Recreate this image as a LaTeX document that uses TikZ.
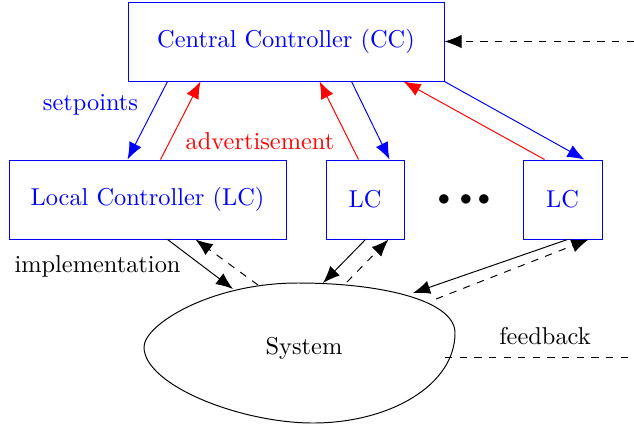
\documentclass[tikz,border=0pt]{standalone}
\usetikzlibrary{arrows.meta,calc}
\begin{document}
\begin{tikzpicture}[x=0.41pt,y=-0.41pt,
  box/.style={draw=blue,text=blue,rectangle,inner sep=0pt,minimum height=32.39pt},
  tip/.style={-{Latex[length=7pt,width=5.5pt]}},
  sp/.style={tip,blue},
  adv/.style={tip,red},
  dsh/.style={dashed},
  dot/.style={inner sep=0pt}]
\useasboundingbox (0,0) rectangle (634,426);
\node[box,minimum width=129.56pt] (cc) at (286,41.5) {Central Controller (CC)};
\node[box,minimum width=113.57pt] (lc1) at (147.5,199.5) {Local Controller (LC)};
\node[box,minimum width=31.98pt] (lc2) at (365,199.5) {LC};
\node[box,minimum width=32.39pt] (lc3) at (562.5,199.5) {LC};
\node[dot] (d1) at (444,200) {$\bullet$};
\node[dot] (d2) at (466,200) {$\bullet$};
\node[dot] (d3) at (484,200) {$\bullet$};
% system blob
\draw (144,347) .. controls (144,325) and (210,283) .. (298,283)
  .. controls (380,283) and (455,300) .. (455,333)
  .. controls (455,385) and (390,423) .. (313,423)
  .. controls (240,423) and (144,385) .. cycle;
\node (sys) at (304,348) {System};
% labels
\node[text=blue] (lsp) at (90.5,105) {setpoints};
\node[text=red] (ladv) at (260,141) {advertisement};
\node (limp) at (97.5,266) {implementation};
\node (lfb) at (545,336) {feedback};
% CC <-> LCs
\draw[sp] ($(cc.south west)+(40,0)$) -- ($(lc1.north west)+(119,0)$);
\draw[adv] ($(lc1.north west)+(152,0)$) -- ($(cc.south west)+(73,0)$);
\draw[adv] ($(lc2.north west)+(33,0)$) -- ($(cc.south west)+(192,0)$);
\draw[sp] ($(cc.south west)+(224,0)$) -- ($(lc2.north west)+(64,0)$);
\draw[adv] ($(lc3.north west)+(22,0)$) -- ($(cc.south west)+(276,0)$);
\draw[sp] (cc.south east) -- ($(lc3.north west)+(62,0)$);
% external input
\coordinate (ext) at (634,41.5);
\draw[dsh,tip] (ext) -- (cc.east);
% LCs <-> system
\coordinate (s1) at (233,289);
\coordinate (s1d) at (258,285);
\coordinate (s2) at (323,283);
\coordinate (s2d) at (347,282);
\coordinate (s3) at (413,293);
\coordinate (s3d) at (436,299);
\draw[tip] ($(lc1.south west)+(159,0)$) -- (s1);
\draw[tip,dsh] (s1d) -- ($(lc1.south west)+(187,0)$);
\draw[tip] ($(lc2.south west)+(40,0)$) -- (s2);
\draw[tip,dsh] (s2d) -- ($(lc2.south west)+(63,0)$);
\draw[tip] ($(lc3.south west)+(45,0)$) -- (s3);
\draw[tip,dsh] (s3d) -- ($(lc3.south west)+(66,0)$);
% feedback
\coordinate (fbA) at (445,357);
\coordinate (fbB) at (634,357);
\draw[dsh] (fbA) -- (fbB);
\end{tikzpicture}
\end{document}
